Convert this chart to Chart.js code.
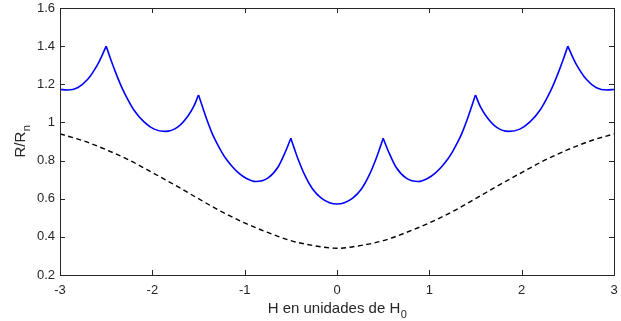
<!DOCTYPE html>
<html>
<head>
<meta charset="utf-8">
<script src="https://cdn.jsdelivr.net/npm/chart.js@4/dist/chart.umd.min.js"></script>
<style>
  html, body { margin: 0; padding: 0; background: #fff; }
  #wrap { width: 621px; height: 321px; }
</style>
</head>
<body>
<div id="wrap"><canvas id="rr-chart" width="621" height="321"></canvas></div>
<script>
// Resistencia normalizada frente a H/H0
const blueX = [-3.00, -2.92, -2.81, -2.70, -2.59, -2.55, -2.50,
    -2.45, -2.40, -2.35, -2.30, -2.20, -2.09, -1.98, -1.86, -1.73, -1.62, -1.55, -1.50,
    -1.45, -1.41, -1.35, -1.30, -1.25, -1.20, -1.14, -1.07, -0.98, -0.88, -0.75, -0.64, -0.56, -0.50,
    -0.46, -0.42, -0.35, -0.26, -0.17, -0.08, 0.00, 0.08, 0.17, 0.26, 0.35, 0.42, 0.46, 0.50,
    0.56, 0.64, 0.75, 0.88, 0.98, 1.07, 1.14, 1.20, 1.25, 1.30, 1.35, 1.41, 1.45, 1.50,
    1.55, 1.62, 1.73, 1.86, 1.98, 2.09, 2.20, 2.30, 2.35, 2.40, 2.45, 2.50,
    2.55, 2.59, 2.70, 2.81, 2.92, 3.00];
const blueY = [1.173, 1.170, 1.182, 1.226, 1.306, 1.345, 1.400,
    1.330, 1.265, 1.205, 1.152, 1.065, 1.003, 0.965, 0.953, 0.974, 1.030, 1.085, 1.144,
    1.072, 1.015, 0.940, 0.890, 0.846, 0.808, 0.772, 0.737, 0.706, 0.690, 0.708, 0.765, 0.845, 0.917,
    0.860, 0.806, 0.725, 0.648, 0.603, 0.579, 0.572, 0.579, 0.603, 0.648, 0.725, 0.806, 0.860, 0.917,
    0.845, 0.765, 0.708, 0.690, 0.706, 0.737, 0.772, 0.808, 0.846, 0.890, 0.940, 1.015, 1.072, 1.144,
    1.085, 1.030, 0.974, 0.953, 0.965, 1.003, 1.065, 1.152, 1.205, 1.265, 1.330, 1.400,
    1.345, 1.306, 1.226, 1.182, 1.170, 1.173];

const dashX = [-3.00, -2.75, -2.50, -2.25, -2.00, -1.75, -1.50, -1.25, -1.00, -0.75, -0.50, -0.25, 0.00,
    0.25, 0.50, 0.75, 1.00, 1.25, 1.50, 1.75, 2.00, 2.25, 2.50, 2.75, 3.00];
const dashY = [0.940, 0.904, 0.857, 0.802, 0.737, 0.670, 0.600, 0.532, 0.473, 0.423, 0.380, 0.354, 0.340,
    0.354, 0.380, 0.423, 0.473, 0.532, 0.600, 0.670, 0.737, 0.802, 0.857, 0.904, 0.940];

const xTicks = [-3, -2, -1, 0, 1, 2, 3];
const yTicks = [0.2, 0.4, 0.6, 0.8, 1.0, 1.2, 1.4, 1.6];

const FONT = '"Liberation Sans", Arial, Helvetica, sans-serif';
const AXIS_COLOR = '#262626';

// cut the blue curve at its cusps so each arc is smoothed on its own
const bluePts = blueX.map((x, i) => ({ x, y: blueY[i] }));
const breaks = [0];
for (let i = 1; i < bluePts.length - 1; i++) {
    if (blueY[i] > blueY[i - 1] && blueY[i] > blueY[i + 1]) breaks.push(i);
}
breaks.push(bluePts.length - 1);

const datasets = [];
for (let k = 0; k < breaks.length - 1; k++) {
    datasets.push({
        data: bluePts.slice(breaks[k], breaks[k + 1] + 1),
        borderColor: '#0000ff',
        borderWidth: 1.6,
        pointRadius: 0,
        cubicInterpolationMode: 'monotone'
    });
}
datasets.push({
    data: dashX.map((x, i) => ({ x, y: dashY[i] })),
    borderColor: '#000000',
    borderWidth: 1.4,
    borderDash: [5, 3.5],
    pointRadius: 0,
    cubicInterpolationMode: 'monotone'
});

// box, inward ticks on all four sides and the axis labels with subscripts
const boxPlugin = {
    id: 'boxPlugin',
    afterDraw(chart) {
        const { ctx, chartArea: a, scales } = chart;
        ctx.save();
        ctx.strokeStyle = AXIS_COLOR;
        ctx.lineWidth = 1;
        ctx.strokeRect(a.left + 0.5, a.top + 0.5, a.right - a.left, a.bottom - a.top);
        const len = 5;
        ctx.beginPath();
        xTicks.forEach(v => {
            const px = Math.round(scales.x.getPixelForValue(v)) + 0.5;
            ctx.moveTo(px, a.bottom); ctx.lineTo(px, a.bottom - len);
            ctx.moveTo(px, a.top); ctx.lineTo(px, a.top + len);
        });
        yTicks.forEach(v => {
            const py = Math.round(scales.y.getPixelForValue(v)) + 0.5;
            ctx.moveTo(a.left, py); ctx.lineTo(a.left + len, py);
            ctx.moveTo(a.right, py); ctx.lineTo(a.right - len, py);
        });
        ctx.stroke();

        ctx.fillStyle = AXIS_COLOR;
        ctx.textBaseline = 'alphabetic';
        // x label
        ctx.font = '15px ' + FONT;
        const main = 'H en unidades de H';
        const wMain = ctx.measureText(main).width;
        ctx.font = '11px ' + FONT;
        const wSub = ctx.measureText('0').width;
        const cx = (a.left + a.right) / 2;
        const x0 = cx - (wMain + wSub) / 2;
        ctx.font = '15px ' + FONT;
        ctx.textAlign = 'left';
        ctx.fillText(main, x0, 312.5);
        ctx.font = '11px ' + FONT;
        ctx.fillText('0', x0 + wMain + 0.5, 318);

        // y label
        ctx.save();
        ctx.translate(25, (a.top + a.bottom) / 2);
        ctx.rotate(-Math.PI / 2);
        ctx.font = '15px ' + FONT;
        const yMain = 'R/R';
        const wy = ctx.measureText(yMain).width;
        ctx.font = '11px ' + FONT;
        const wyS = ctx.measureText('n').width;
        const y0 = -(wy + wyS) / 2;
        ctx.font = '15px ' + FONT;
        ctx.fillText(yMain, y0, 0);
        ctx.font = '11px ' + FONT;
        ctx.fillText('n', y0 + wy + 0.5, 5);
        ctx.restore();
        ctx.restore();
    }
};

function noPad(s) {
    s.paddingLeft = 0; s.paddingRight = 0; s.paddingTop = 0; s.paddingBottom = 0;
}

new Chart(document.getElementById('rr-chart').getContext('2d'), {
    type: 'line',
    data: { datasets },
    options: {
        responsive: false,
        animation: false,
        layout: { padding: { top: 8, right: 7, left: 0, bottom: 0 } },
        plugins: { legend: { display: false }, tooltip: { enabled: false } },
        scales: {
            x: {
                type: 'linear',
                min: -3, max: 3,
                afterFit: s => { s.height = 46; noPad(s); },
                afterBuildTicks: s => { s.ticks = xTicks.map(v => ({ value: v })); },
                grid: { display: false, drawTicks: false },
                border: { display: false },
                ticks: { color: AXIS_COLOR, font: { family: FONT, size: 13 }, padding: 8, maxRotation: 0,
                    callback: v => String(v) }
            },
            y: {
                type: 'linear',
                min: 0.2, max: 1.6,
                afterFit: s => { s.width = 60; noPad(s); },
                afterBuildTicks: s => { s.ticks = yTicks.map(v => ({ value: v })); },
                grid: { display: false, drawTicks: false },
                border: { display: false },
                ticks: { color: AXIS_COLOR, font: { family: FONT, size: 13 }, padding: 5,
                    callback: v => String(Math.round(v * 10) / 10) }
            }
        }
    },
    plugins: [boxPlugin]
});
</script>
</body>
</html>
